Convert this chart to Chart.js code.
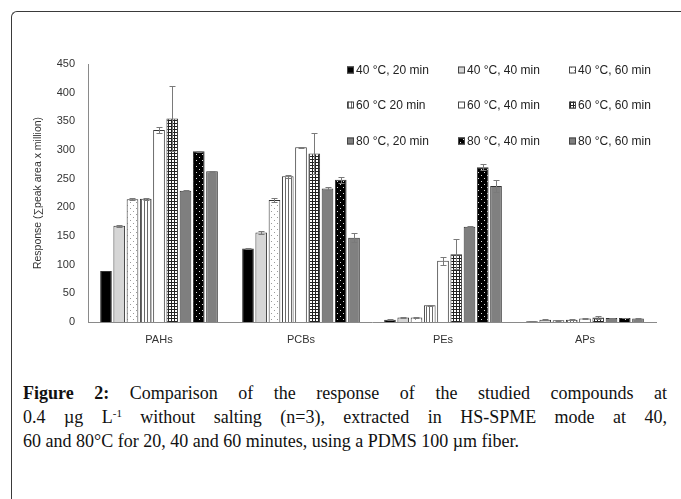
<!DOCTYPE html>
<html>
<head>
<meta charset="utf-8">
<script src="https://cdn.jsdelivr.net/npm/chart.js@4.4.1/dist/chart.umd.min.js"></script>
<style>
  html, body { margin: 0; padding: 0; background: #fff; }
  #wrap { position: relative; width: 681px; height: 499px; overflow: hidden; }
  #frame {
    position: absolute; left: 11px; top: 11px; width: 720px; height: 540px;
    border-left: 1.5px solid #3a3a3a; border-top: 1.5px solid #3a3a3a;
    border-top-left-radius: 6px;
  }
  #chart { position: absolute; left: 0; top: 0; }
  .cap {
    position: absolute; left: 23px; width: 644px;
    font-family: "Liberation Serif", serif; font-size: 18px; line-height: 24px;
    color: #111; white-space: nowrap;
  }
  .cap.j { text-align: justify; text-align-last: justify; white-space: normal; }
  .sup { font-size: 11px; vertical-align: 6px; line-height: 0; }
</style>
</head>
<body>
<div id="wrap">
  <div id="frame"></div>
  <canvas id="chart" width="681" height="360"></canvas>
  <div class="cap j" style="top:381px"><b>Figure 2:</b> Comparison of the response of the studied compounds at</div>
  <div class="cap j" style="top:405px">0.4 µg L<span class="sup">-1</span> without salting (n=3), extracted in HS-SPME mode at 40,</div>
  <div class="cap" style="top:429px">60 and 80°C for 20, 40 and 60 minutes, using a PDMS 100 µm fiber.</div>
</div>
<script>
const categories = ["PAHs", "PCBs", "PEs", "APs"];
const seriesLabels = [
  "40 °C, 20 min", "40 °C, 40 min", "40 °C, 60 min",
  "60 °C 20 min", "60 °C, 40 min", "60 °C, 60 min",
  "80 °C, 20 min", "80 °C, 40 min", "80 °C, 60 min",
];
const yTicks = [0, 50, 100, 150, 200, 250, 300, 350, 400, 450];

// values per condition, in category order
const t40m20 = [89, 128, 4, 1.5];
const t40m40 = [168, 156, 8, 4];
const t40m60 = [214, 213, 8, 3];
const t60m20 = [215, 254, 29, 4];
const t60m40 = [335, 305, 107, 6];
const t60m60 = [355, 294, 118, 8];
const t80m20 = [229, 233, 166, 7];
const t80m40 = [298, 248, 270, 7];
const t80m60 = [263, 147, 237, 6];

// standard deviations
const e40m20 = [0, 1, 0.5, 0.3];
const e40m40 = [2, 3, 1, 0.5];
const e40m60 = [2, 3, 1, 0.5];
const e60m20 = [2, 3, 1, 0.5];
const e60m40 = [5, 1, 7, 0.5];
const e60m60 = [56, 35, 26, 2];
const e80m20 = [1, 2, 1, 0.5];
const e80m40 = [1, 5, 5, 0.5];
const e80m60 = [1, 8, 10, 0.5];

const tile = (size, bg, paint) => {
  const c = document.createElement("canvas");
  c.width = c.height = size;
  const g = c.getContext("2d");
  g.fillStyle = bg;
  g.fillRect(0, 0, size, size);
  paint(g);
  return g.createPattern(c, "repeat");
};

const dots = (bg, fg) =>
  tile(6, bg, (g) => {
    g.fillStyle = fg;
    g.fillRect(1, 1, 1, 1);
    g.fillRect(4, 4, 1, 1);
  });

const vstripes = tile(3, "#fff", (g) => {
  g.fillStyle = "#6a6a6a";
  g.fillRect(0, 0, 1, 3);
});

const grid = tile(3, "#fff", (g) => {
  g.fillStyle = "#222";
  g.fillRect(0, 0, 3, 1);
  g.fillRect(0, 0, 1, 3);
});

const fills = [
  "#000",
  "#d6d6d6",
  dots("#fff", "#9a9a9a"),
  vstripes,
  "#fff",
  grid,
  "#7f7f7f",
  dots("#000", "#e0e0e0"),
  "#808080",
];

const values = [t40m20, t40m40, t40m60, t60m20, t60m40, t60m60, t80m20, t80m40, t80m60];
const errors = [e40m20, e40m40, e40m60, e60m20, e60m40, e60m60, e80m20, e80m40, e80m60];

const errorBars = {
  id: "errorBars",
  afterDatasetsDraw(chart) {
    const { ctx } = chart;
    const y = chart.scales.y;
    ctx.save();
    ctx.strokeStyle = "#7a7a7a";
    ctx.lineWidth = 1;
    chart.data.datasets.forEach((ds, i) => {
      chart.getDatasetMeta(i).data.forEach((bar, j) => {
        const err = errors[i][j];
        if (!err) return;
        const v = ds.data[j];
        const top = Math.round(y.getPixelForValue(v + err)) + 0.5;
        const bot = Math.round(y.getPixelForValue(v - err)) + 0.5;
        const x = Math.round(bar.x) + 0.5;
        ctx.beginPath();
        ctx.moveTo(x, top);
        ctx.lineTo(x, bot);
        ctx.moveTo(x - 3, top);
        ctx.lineTo(x + 3, top);
        ctx.moveTo(x - 3, bot);
        ctx.lineTo(x + 3, bot);
        ctx.stroke();
      });
    });
    ctx.restore();
  },
};

// 3 x 3 legend inside the plot, top right
const gridLegend = {
  id: "gridLegend",
  afterDraw(chart) {
    const { ctx } = chart;
    const colX = [347, 458, 569];
    const rowY = [70, 105, 141];
    ctx.save();
    ctx.font = "12px 'Liberation Sans', Arial, sans-serif";
    ctx.textBaseline = "middle";
    chart.data.datasets.forEach((ds, i) => {
      const x = colX[i % 3];
      const y = rowY[Math.floor(i / 3)];
      ctx.fillStyle = ds.backgroundColor;
      ctx.fillRect(x, y - 3.5, 7, 7);
      ctx.strokeStyle = "#444";
      ctx.lineWidth = 1;
      ctx.strokeRect(x + 0.5, y - 3, 6, 6);
      ctx.fillStyle = "#222";
      ctx.fillText(ds.label, x + 9, y + 0.5);
    });
    ctx.restore();
  },
};

const axisFont = { family: "'Liberation Sans', Arial, sans-serif", size: 11 };

new Chart(document.getElementById("chart"), {
  type: "bar",
  data: {
    labels: categories,
    datasets: seriesLabels.map((label, i) => ({
      label,
      data: values[i],
      backgroundColor: fills[i],
      borderColor: "#333",
      borderWidth: 1,
      categoryPercentage: 0.84,
      barPercentage: 0.88,
    })),
  },
  options: {
    responsive: false,
    animation: false,
    layout: { padding: { top: 64, right: 25, left: 0, bottom: 0 } },
    plugins: {
      legend: { display: false },
      tooltip: { enabled: false },
    },
    scales: {
      x: {
        grid: { display: false, drawTicks: false },
        border: { color: "#8a8a8a", width: 1 },
        ticks: { color: "#333", font: axisFont, padding: 11 },
        afterFit: (s) => { s.height = 38; },
      },
      y: {
        min: 0,
        max: 450,
        afterBuildTicks: (s) => { s.ticks = yTicks.map((v) => ({ value: v })); },
        grid: { display: false, drawTicks: false },
        border: { color: "#8a8a8a", width: 1 },
        ticks: { color: "#333", font: axisFont, padding: 13 },
        title: {
          display: true,
          text: "Response (∑peak area x million)",
          color: "#333",
          font: { family: "'Liberation Sans', Arial, sans-serif", size: 10.5 },
          padding: { top: 32, bottom: 0 },
        },
        afterFit: (s) => { s.width = 88; },
      },
    },
  },
  plugins: [errorBars, gridLegend],
});
</script>
</body>
</html>
